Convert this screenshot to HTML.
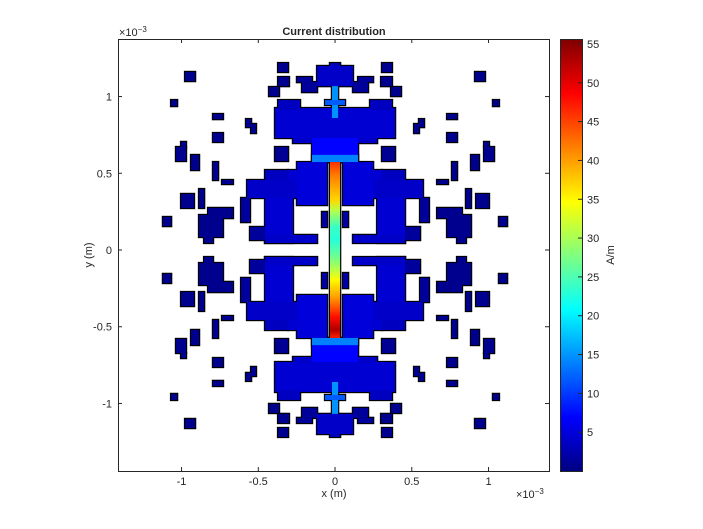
<!DOCTYPE html>
<html><head><meta charset="utf-8"><style>
body{margin:0;background:#fff;}
svg{display:block;font-family:"Liberation Sans",sans-serif;}
</style></head><body>
<svg id="chart" width="703" height="529" viewBox="0 0 703 529">
<defs>
<linearGradient id="stripGrad" x1="0" y1="0" x2="0" y2="1"></linearGradient>
<linearGradient id="cbGrad" x1="0" y1="1" x2="0" y2="0"></linearGradient>
</defs>
<g id="plot"></g>
</svg>
<script>
// axis ranges (mm, scaled 1e-3)
const xRange=[-1.414,1.394];
const yRange=[-1.440,1.375];
const cRange=[0,55.64];
const xTicks=[-1,-0.5,0,0.5,1];
const xTickLabels=["-1","-0.5","0","0.5","1"];
const yTicks=[-1,-0.5,0,0.5,1];
const yTickLabels=["-1","-0.5","0","0.5","1"];
const cTicks=[5,10,15,20,25,30,35,40,45,50,55];
// quadrant parasitic patches [x0,y0,x1,y1] in mm (upper-left), mirrored 4 ways
const isoRects=[
[-0.371,1.218,-0.306,1.160],[-0.977,1.160,-0.912,1.101],[-0.371,1.127,-0.300,1.068],
[-0.430,1.062,-0.365,1.003],[-1.068,0.977,-1.029,0.938],[-0.795,0.886,-0.730,0.853],
[-0.795,0.762,-0.730,0.704],[-0.580,0.853,-0.547,0.801],[-0.547,0.821,-0.515,0.762],
[-0.248,1.127,-0.150,1.094],[-0.215,1.094,-0.117,1.029],[-1.003,0.704,-0.971,0.671],
[-1.036,0.671,-0.971,0.580],[-0.391,0.671,-0.306,0.580],[-0.938,0.619,-0.886,0.521],
[-0.795,0.573,-0.762,0.456],[-0.736,0.456,-0.665,0.430],[-1.003,0.365,-0.919,0.274],
[-0.886,0.397,-0.853,0.274],[-1.121,0.215,-1.068,0.156],[-0.886,0.228,-0.730,0.085],
[-0.827,0.274,-0.665,0.208],[-0.853,0.085,-0.795,0.046],[-0.612,0.339,-0.554,0.182],
[-0.554,0.150,-0.456,0.065],[-0.085,0.248,-0.052,0.150]
];
const isoValues=[0.8,0.8,0.8,0.8,0.8,0.8,0.8,0.8,0.8,1.5,1.5,0.8,0.8,1,0.8,0.8,0.8,0.8,0.8,0.8,0.8,0.8,0.8,1.5,1.5,2];
// side radiator body (upper-left quadrant) mirrored 4 ways
const bodyRects=[
[-0.456,0.521,-0.306,0.456],[-0.573,0.456,-0.241,0.339],[-0.456,0.339,-0.274,0.046],
[-0.456,0.098,-0.117,0.046],[-0.248,0.573,-0.052,0.293],[-0.306,0.521,-0.228,0.456]
];
const bodyValues=[3.5,4,4.5,4,5,4.5];
// central pieces [x0,y0,x1,y1] mirrored in y only
const centerRects=[
[-0.391,0.925,0.391,0.730],[-0.371,0.977,-0.228,0.912],[0.228,0.977,0.371,0.912],
[-0.274,0.730,-0.117,0.697],[0.117,0.730,0.274,0.697],[-0.150,0.730,0.150,0.573],
[-0.117,1.199,0.117,1.068],[-0.033,1.218,0.033,1.199],[-0.020,1.068,0.020,0.860],
[-0.065,0.977,0.065,0.945],[-0.150,0.620,0.150,0.573]
];
const centerValues=[4.5,3.5,3.5,4,4,7,4,3,15,12,14];
// feed strip
const strip=[-0.033,0.573,0.033,-0.573];
const stripY=[0.573,0.489,0.326,0.261,0.150,0.065,-0.046,-0.130,-0.195,-0.306,-0.437,-0.521,-0.573];
const stripValues=[46,42,37,31,24,23,27,31,35,40,48,53,47];

const AX={x0:118,x1:549,y0:39,y1:471};
const CB={x0:560,x1:582,y0:39,y1:471};
const sx=v=>AX.x0+(v-xRange[0])/(xRange[1]-xRange[0])*(AX.x1-AX.x0);
const sy=v=>AX.y1-(v-yRange[0])/(yRange[1]-yRange[0])*(AX.y1-AX.y0);
const cy=v=>CB.y1-(v-cRange[0])/(cRange[1]-cRange[0])*(CB.y1-CB.y0);
const cl=v=>Math.max(0,Math.min(1,v));
function jet(val){const t=cl((val-cRange[0])/(cRange[1]-cRange[0]));
 const r=cl(1.5-Math.abs(4*t-3)),g=cl(1.5-Math.abs(4*t-2)),b=cl(1.5-Math.abs(4*t-1));
 return `rgb(${Math.round(r*255)},${Math.round(g*255)},${Math.round(b*255)})`;}
const NS="http://www.w3.org/2000/svg";
const plot=document.getElementById('plot');
function el(tag,attrs,parent){const e=document.createElementNS(NS,tag);for(const k in attrs)e.setAttribute(k,attrs[k]);(parent||plot).appendChild(e);return e;}

const shapes=[];
function addMirror(r,v,mx,my,kind){
 const xs=mx?[1,-1]:[1], ys=my?[1,-1]:[1];
 xs.forEach(a=>ys.forEach(b=>{
  const xa=r[0]*a,xb=r[2]*a,ya=r[1]*b,yb=r[3]*b;
  shapes.push({x0:Math.min(xa,xb),x1:Math.max(xa,xb),y0:Math.min(ya,yb),y1:Math.max(ya,yb),v,kind});
 }));}
isoRects.forEach((r,i)=>addMirror(r,isoValues[i],true,true,'patch'));
bodyRects.forEach((r,i)=>addMirror(r,bodyValues[i],true,true,'body'));
centerRects.forEach((r,i)=>addMirror(r,centerValues[i],false,true,'center'));

const outline=el('g',{});


const fills=el('g',{});


function rectAt(s,g,attrs){return el('rect',Object.assign({x:sx(s.x0),y:sy(s.y1),width:sx(s.x1)-sx(s.x0),height:sy(s.y0)-sy(s.y1)},attrs),g);}
shapes.forEach(s=>rectAt(s,outline,{fill:'#000',stroke:'#000','stroke-width':2.4}));
const stripShape={x0:strip[0],y0:strip[3],x1:strip[2],y1:strip[1]};
rectAt(stripShape,outline,{fill:'#000',stroke:'#000','stroke-width':2.4});
shapes.forEach(s=>{const r=rectAt(s,fills,{fill:jet(s.v)});
 
 });
const sg=document.getElementById('stripGrad');
stripY.forEach((y,i)=>{el('stop',{offset:(strip[1]-y)/(strip[1]-strip[3]),'stop-color':jet(stripValues[i])},sg);});
const sr=rectAt(stripShape,fills,{fill:'url(#stripGrad)'});



const axes=el('g',{});


el('rect',{x:AX.x0+0.5,y:AX.y0+0.5,width:AX.x1-AX.x0,height:AX.y1-AX.y0,fill:'none',stroke:'#262626','stroke-width':1},axes);
xTicks.forEach((t,i)=>{const x=sx(t);
 el('line',{x1:x,x2:x,y1:AX.y1,y2:AX.y1-4,stroke:'#262626'},axes);
 el('line',{x1:x,x2:x,y1:AX.y0,y2:AX.y0+4,stroke:'#262626'},axes);
 const tx=el('text',{x:x,y:AX.y1+14,'text-anchor':'middle','font-size':11,fill:'#262626'},axes);tx.textContent=xTickLabels[i];
 });
yTicks.forEach((t,i)=>{const y=sy(t);
 el('line',{x1:AX.x0,x2:AX.x0+4,y1:y,y2:y,stroke:'#262626'},axes);
 el('line',{x1:AX.x1,x2:AX.x1-4,y1:y,y2:y,stroke:'#262626'},axes);
 const tx=el('text',{x:AX.x0-6,y:y+4,'text-anchor':'end','font-size':11,fill:'#262626'},axes);tx.textContent=yTickLabels[i];
 });
function txt(s,attrs,name){const t=el('text',Object.assign({'font-size':11,fill:'#262626'},attrs));t.innerHTML=s;return t;}
txt('×10<tspan dy="-4" font-size="8">−3</tspan>',{x:119,y:36},'y-exponent');
txt('×10<tspan dy="-4" font-size="8">−3</tspan>',{x:516,y:498},'x-exponent');
txt('Current distribution',{x:334,y:35,'text-anchor':'middle','font-weight':'bold'},'chart-title');
txt('x (m)',{x:334,y:497,'text-anchor':'middle'},'x-axis-title');
txt('y (m)',{x:92,y:255,'text-anchor':'middle',transform:'rotate(-90 92 255)'},'y-axis-title');

const cg=document.getElementById('cbGrad');
for(let i=0;i<=40;i++){el('stop',{offset:i/40,'stop-color':jet(cRange[0]+i/40*(cRange[1]-cRange[0]))},cg);}
const cb=el('g',{});


el('rect',{x:CB.x0+0.5,y:CB.y0+0.5,width:CB.x1-CB.x0,height:CB.y1-CB.y0,fill:'url(#cbGrad)',stroke:'#262626','stroke-width':1},cb);
cTicks.forEach(t=>{const y=cy(t);
 el('line',{x1:CB.x1-4,x2:CB.x1,y1:y,y2:y,stroke:'#262626'},cb);
 const tx=el('text',{x:CB.x1+5,y:y+4,'font-size':11,fill:'#262626'},cb);tx.textContent=t;
 });
txt('A/m',{x:614,y:255,'text-anchor':'middle',transform:'rotate(-90 614 255)'},'colorbar-label');
</script>
</body></html>
